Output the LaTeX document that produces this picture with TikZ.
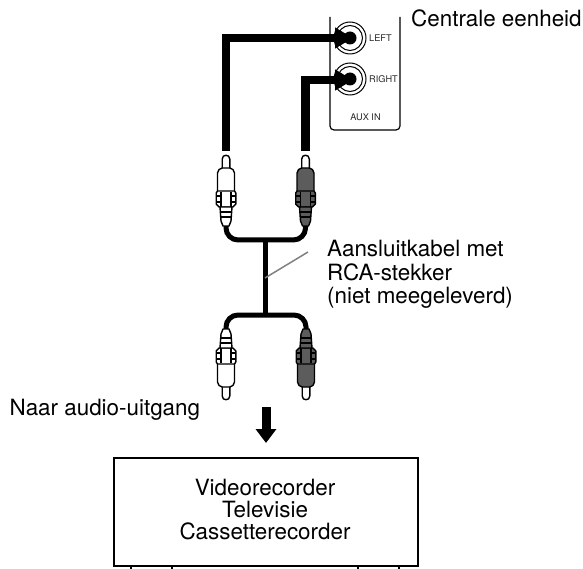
\documentclass[tikz,border=0pt]{standalone}
\usepackage{fontspec}
\setmainfont{TeX Gyre Heros}
\usetikzlibrary{arrows.meta}
\definecolor{plugdark}{gray}{0.36}
\tikzset{
  x=1pt,y=-1pt,
  lbl/.style={inner sep=0pt,font=\fontsize{22.4}{22.5}\selectfont,text=black},
  jacklbl/.style={inner sep=0pt,font=\fontsize{9.2}{11}\selectfont,text=black!85},
  audiocable/.style={draw=black,line width=8.5pt,line join=miter},
  thincable/.style={draw=black,line width=5pt,rounded corners=12pt},
  pointer/.style={-{Triangle[length=18pt,width=20pt]}},
  panel/.style={draw=black,line width=1.2pt,rounded corners=4pt},
  plugline/.style={draw=black,line width=1.4pt,line join=round},
  pics/rcaplug/.style={code={
    % local y: 0 = pin end, 70 = cable end
    \path[plugline,fill=white] (-3.8,14) -- (-3.8,4) .. controls (-3.8,-1) and (3.8,-1) .. (3.8,4) -- (3.8,14) -- cycle;
    \path[plugline,fill=#1] (-3.8,13) .. controls (-6,13.5) and (-8.5,15) .. (-8.5,18) -- (-8.5,37) -- (8.5,37) -- (8.5,18) .. controls (8.5,15) and (6,13.5) .. (3.8,13) -- cycle;
    \path[plugline,fill=#1] (-8.5,36) -- (-9.8,38) -- (-9.8,49) -- (-7,52) -- (7,52) -- (9.8,49) -- (9.8,38) -- (8.5,36) -- cycle;
    \path[plugline,fill=#1] (-6,52) -- (-5,66) -- (-3,71) -- (3,71) -- (5,66) -- (6,52) -- cycle;
    \draw[line width=1.2pt] (-5,41) rectangle (-9.8,47);
    \draw[line width=1.2pt] (5,41) rectangle (9.8,47);
    \draw[line width=1.2pt] (-5,37) -- (-5,52) (5,37) -- (5,52);
    \draw[line width=1.1pt] (-5.8,57) -- (5.8,57) (-5.4,62) -- (5.4,62);
  }},
}
\begin{document}
\begin{tikzpicture}
\useasboundingbox (0,0) rectangle (583,569);
% input panel
\path[panel] (330,17) -- (330,130) -- (400,130) -- (400,17);
\coordinate (jackL) at (350,38);
\coordinate (jackR) at (350,79);
\foreach \j in {jackL,jackR}{
  \draw[line width=1pt] (\j) circle[radius=16];
  \draw[line width=1pt] (\j) circle[radius=12.5];
  \fill (\j) circle[radius=6.5];
}
\node[jacklbl,anchor=west] (lblLeft) at (369,38) {LEFT};
\node[jacklbl,anchor=west] (lblRight) at (369,79.5) {RIGHT};
\node[jacklbl,anchor=center] (lblAux) at (365.5,117.5) {AUX IN};
\node[lbl,anchor=base west] (title) at (411,27) {Centrale eenheid};
% plugs
\coordinate (plugUL) at (226,155);
\coordinate (plugUR) at (305.5,155);
\coordinate (plugLL) at (226,400);
\coordinate (plugLR) at (306,400);
\coordinate (endUL) at (226,151);
\coordinate (endUR) at (305.5,151);
\coordinate (neckUL) at (226,222);
\coordinate (neckUR) at (305.5,222);
\coordinate (neckLL) at (226,332);
\coordinate (neckLR) at (306,332);
\coordinate (tipL) at (353,38);
\coordinate (tipR) at (353,80);
\coordinate (joinU) at (265,240);
\coordinate (joinL) at (265,315);
% cables
\draw[audiocable,pointer] (endUL) |- (tipL);
\draw[audiocable,pointer] (endUR) |- (tipR);
\path[thincable] (neckUL) |- (joinU) -| (neckUR);
\path[thincable] (neckLL) |- (joinL) -| (neckLR);
\draw[line width=5pt] (joinU) -- (joinL);
\pic at (plugUL) {rcaplug=white};
\pic at (plugUR) {rcaplug=plugdark};
\pic[yscale=-1] at (plugLL) {rcaplug=white};
\pic[yscale=-1] at (plugLR) {rcaplug=plugdark};
% label and leader
\coordinate (leadA) at (265,278);
\coordinate (leadB) at (308,252);
\draw[draw=black!50,line width=1.5pt] (leadA) -- (leadB);
\node[lbl,anchor=base west,align=left] (cableLbl) at (327,257) {Aansluitkabel met};
\node[lbl,anchor=base west,align=left] (cableLbl2) at (327,280) {RCA-stekker};
\node[lbl,anchor=base west,align=left] (cableLbl3) at (327,303) {(niet meegeleverd)};
\node[lbl,anchor=base west] (outLbl) at (9.5,415) {Naar audio-uitgang};
% box
\node[draw=black,line width=2pt,minimum width=304pt,minimum height=108pt,inner sep=0pt,anchor=north west] (unit) at (113,457) {};
\node[lbl,anchor=base] (unitLbl1) at (265,495) {Videorecorder};
\node[lbl,anchor=base] (unitLbl2) at (265,517) {Televisie};
\node[lbl,anchor=base] (unitLbl3) at (265,539.5) {Cassetterecorder};
\coordinate (arrowTop) at (266,407);
\coordinate (arrowTip) at (266,443);
\draw[line width=9pt,-{Triangle[length=14pt,width=20pt]}] (arrowTop) -- (arrowTip);
% feet
\foreach \x in {131,172,358,399}{
  \draw[line width=1.2pt] (\x,565) -- (\x,569);
}
\end{tikzpicture}
\end{document}
